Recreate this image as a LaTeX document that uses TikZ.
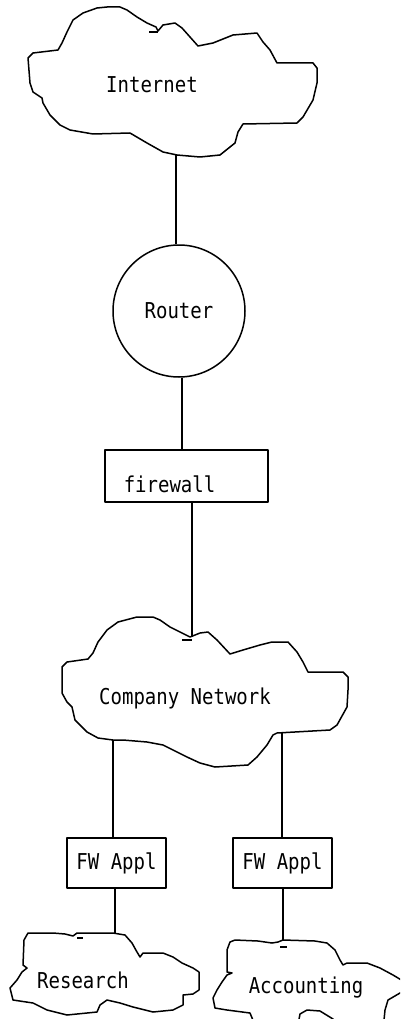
\documentclass[tikz,border=0pt]{standalone}
\usepackage{fontspec}
\setmonofont{DejaVu Sans Mono}
\usepackage{tikz}
\usetikzlibrary{positioning}

% slightly taller letters
\newcommand{\tall}[1]{\scalebox{1}[1.15]{#1}}

\tikzset{
  box/.style={draw, rectangle, inner sep=0pt},
  lbl/.style={inner sep=0pt}
}

\begin{document}
\begin{tikzpicture}[x=1pt, y=-1pt, line width=1.5pt, line join=round,
    font=\ttfamily\fontsize{19}{22}\selectfont]
  \useasboundingbox (0,0) rectangle (400,1019);
  \clip (0,0) rectangle (400,1019);

  % Internet cloud
  \draw (107,7) -- (120,7) -- (127,10) -- (137,17) -- (147,23) -- (156,27) -- (158,31)
    -- (163,25) -- (175,23) -- (182,28) -- (190,37) -- (198,46) -- (213,43) -- (233,35)
    -- (257,33) -- (263,42) -- (270,50) -- (277,63) -- (313,63) -- (317,68) -- (317,83)
    -- (313,100) -- (303,117) -- (297,123) -- (243,124) -- (238,132) -- (235,143)
    -- (220,155) -- (200,157) -- (177,155) -- (163,152) -- (147,143) -- (130,133)
    -- (93,134) -- (70,130) -- (60,125) -- (50,115) -- (43,103) -- (42,98) -- (33,92)
    -- (30,83) -- (28,58) -- (33,53) -- (58,50) -- (62,43) -- (67,32) -- (73,20)
    -- (83,13) -- (97,8) -- cycle;
  \draw (149,32) -- (158,32);
  \node[lbl] (inet) at (152,85) {\tall{Internet}};
  \coordinate (inet-s) at (176,155);

  % Router
  \node[draw, circle, minimum size=132pt, inner sep=0pt] (router) at (179,311) {\tall{Router}};

  % Firewall
  \node[box, minimum width=163pt, minimum height=52pt] (fw) at (186.5,476) {};
  \node[lbl, anchor=west] (fwtext) at (123,484) {\tall{firewall}};

  % Company cloud
  \draw (62,678) -- (62,667) -- (67,662) -- (88,659) -- (93,653) -- (98,642) -- (107,630)
    -- (118,622) -- (137,617) -- (153,617) -- (160,620) -- (170,627) -- (180,632)
    -- (190,637) -- (200,633) -- (208,632) -- (217,640) -- (230,654) -- (243,650)
    -- (260,645) -- (272,642) -- (288,642) -- (297,652) -- (303,662) -- (308,672)
    -- (343,672) -- (348,677) -- (348,690) -- (347,707) -- (337,725) -- (330,730)
    -- (277,733) -- (273,735) -- (267,745) -- (257,757) -- (248,765) -- (215,767)
    -- (200,763) -- (187,757) -- (173,750) -- (163,745) -- (147,742) -- (123,740)
    -- (113,740) -- (98,738) -- (87,732) -- (75,720) -- (72,707) -- (67,702)
    -- (62,693) -- cycle;
  \draw (182,640) -- (192,640);
  \node[lbl] (corp) at (185,698) {\tall{Company Network}};
  \coordinate (corp-n) at (192,637);
  \coordinate (corp-sw) at (113,740);
  \coordinate (corp-se) at (282,733);

  % Firewall appliances
  \node[box, minimum width=99pt, minimum height=50pt] (fwa) at (116.5,863) {\tall{FW Appl}};
  \node[box, minimum width=99pt, minimum height=50pt] (fwb) at (282.5,863) {\tall{FW Appl}};

  % Research cloud
  \draw (32,933) -- (53,933) -- (65,934) -- (73,936) -- (77,933) -- (113,933) -- (125,935)
    -- (132,943) -- (137,952) -- (140,957) -- (143,953) -- (163,953) -- (173,957)
    -- (182,963) -- (193,968) -- (199,972) -- (199,990) -- (193,994) -- (183,995)
    -- (183,1005) -- (173,1010) -- (153,1012) -- (133,1007) -- (120,1003) -- (107,1000)
    -- (100,1005) -- (97,1012) -- (67,1015) -- (47,1010) -- (33,1003) -- (13,1000)
    -- (10,988) -- (17,980) -- (22,972) -- (27,968) -- (23,965) -- (24,940)
    -- (28,933) -- cycle;
  \draw (77,938) -- (83,938);
  \node[lbl] (res) at (83,980) {\tall{Research}};
  \coordinate (res-n) at (115,933);

  % Accounting cloud
  \draw (230,942) -- (235,940) -- (258,941) -- (272,943) -- (278,942) -- (283,940)
    -- (315,941) -- (327,943) -- (335,950) -- (340,960) -- (343,965) -- (347,963)
    -- (367,963) -- (380,968) -- (393,975) -- (403,981) -- (403,992) -- (400,993)
    -- (388,1000) -- (385,1010) -- (383,1030) -- (340,1030) -- (333,1019) -- (320,1011)
    -- (307,1010) -- (300,1014) -- (297,1030) -- (257,1030) -- (250,1013) -- (227,1010)
    -- (215,1008) -- (213,998) -- (217,990) -- (222,982) -- (227,975) -- (232,973)
    -- (227,972) -- (227,950) -- cycle;
  \draw (280,947) -- (287,947);
  \node[lbl] (acc) at (306,988) {\tall{Accounting}};
  \coordinate (acc-n) at (283,941);

  % Links
  \draw (inet-s) -- (inet-s |- router.north);
  \draw ([xshift=3pt]router.south) -- ([xshift=3pt]router.south |- fw.north);
  \draw (corp-n |- fw.south) -- (corp-n);
  \draw (corp-sw) -- (corp-sw |- fwa.north);
  \draw (corp-se) -- (corp-se |- fwb.north);
  \draw (res-n |- fwa.south) -- (res-n);
  \draw (acc-n |- fwb.south) -- (acc-n);
\end{tikzpicture}
\end{document}
